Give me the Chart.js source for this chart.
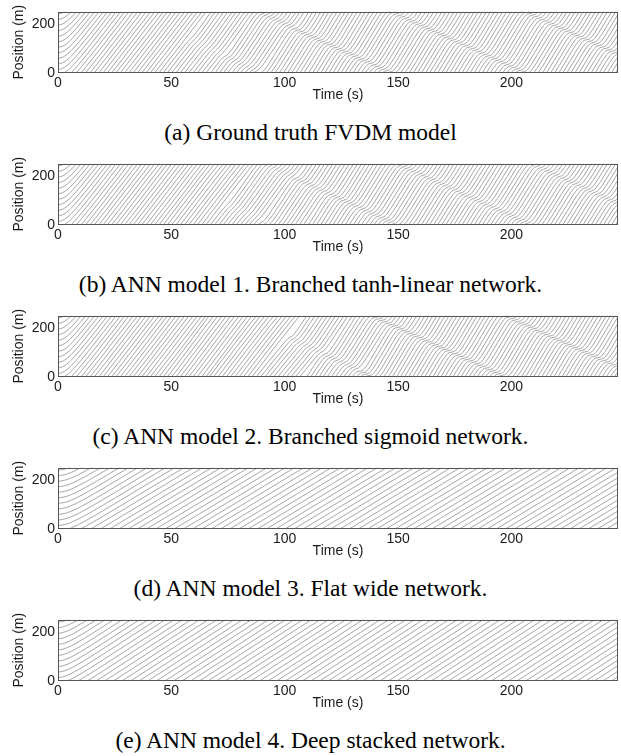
<!DOCTYPE html>
<html>
<head>
<meta charset="utf-8">
<script src="https://cdn.jsdelivr.net/npm/chart.js@4.4.0/dist/chart.umd.min.js"></script>
<style>
  body { margin: 0; background: #fff; }
  #fig { position: relative; width: 621px; height: 756px; overflow: hidden; }
  #fig canvas { position: absolute; left: 0; }
  .caption { position: absolute; left: 0; width: 621px; text-align: center; white-space: nowrap;
    font-family: "Liberation Serif", "Times New Roman", serif; font-size: 23.5px; line-height: 28px; color: #000; }
</style>
</head>
<body>
<div id="fig"></div>
<script>
const captions = [
  '(a) Ground truth FVDM model',
  '(b) ANN model 1. Branched tanh-linear network.',
  '(c) ANN model 2. Branched sigmoid network.',
  '(d) ANN model 3. Flat wide network.',
  '(e) ANN model 4. Deep stacked network.'
];

const ringLength = 250;     // m
const vehicleCount = 11;
const firstVehiclePos = 240;
const timeMax = 247;
const xTicks = [0, 50, 100, 150, 200];
const yTicks = [0, 200];

// start from rest, same for every car in (a)-(c)
const launchTimes = [0, 2, 4, 6, 8, 10, 15, 20, 30];
const launchDist = [0, 5, 17, 34, 54, 76, 133, 192, 312];

// lead car once the stop-and-go wave sets in (distance driven, m)
const waveTimesA = [40, 56, 57.2, 59.2, 60.4, 65.9,
  71.4, 72.6, 74.6, 75.8, 81.3,
  86.8, 88, 90, 91.2, 96.7,
  102.2, 103.4, 105.4, 106.6, 112.1,
  117.6, 118.8, 120.8, 122, 127.5,
  133, 134.2, 136.2, 137.4, 142.9,
  148.4, 149.6, 151.6, 152.8, 158.3,
  163.8, 165, 167, 168.2, 173.7,
  179.2, 180.4, 182.4, 183.6, 189.1,
  194.6, 195.8, 197.8, 199, 204.5,
  210, 211.2, 213.2, 214.4, 219.9,
  225.4, 226.6, 228.6, 229.8, 235.3,
  240.8, 242, 244, 245.2, 250.7,
  256.2, 257.4, 259.4, 260.6, 266.1,
  271.6];
const waveDistA = [432, 624, 637.2, 655.2, 668.4, 738.6,
  808.8, 820.8, 832.8, 844.8, 919.2,
  993.6, 1004.4, 1012.4, 1023.2, 1100.8,
  1178.4, 1188, 1193, 1202.6, 1282.9,
  1363.2, 1372.8, 1377.8, 1387.4, 1467.7,
  1548, 1557.6, 1562.6, 1572.2, 1652.5,
  1732.8, 1742.4, 1747.4, 1757, 1837.3,
  1917.6, 1927.2, 1932.2, 1941.8, 2022.1,
  2102.4, 2112, 2117, 2126.6, 2206.9,
  2287.2, 2296.8, 2301.8, 2311.4, 2391.7,
  2472, 2481.6, 2486.6, 2496.2, 2576.5,
  2656.8, 2666.4, 2671.4, 2681, 2761.3,
  2841.6, 2851.2, 2856.2, 2865.8, 2946.1,
  3026.4, 3036, 3041, 3050.6, 3130.9,
  3211.2];

const waveTimesB = [40, 72, 73.2, 75.2, 76.4, 81.9,
  87.4, 88.6, 90.6, 91.8, 97.3,
  102.8, 104, 106, 107.2, 112.7,
  118.2, 119.4, 121.4, 122.6, 128.1,
  133.6, 134.8, 136.8, 138, 143.5,
  149, 150.2, 152.2, 153.4, 158.9,
  164.4, 165.6, 167.6, 168.8, 174.3,
  179.8, 181, 183, 184.2, 189.7,
  195.2, 196.4, 198.4, 199.6, 205.1,
  210.6, 211.8, 213.8, 215, 220.5,
  226, 227.2, 229.2, 230.4, 235.9,
  241.4, 242.6, 244.6, 245.8, 251.3,
  256.8, 258, 260, 261.2, 266.7,
  272.2];
const waveDistB = [432, 816, 829.2, 847.2, 860.4, 930.6,
  1000.8, 1012.8, 1024.8, 1036.8, 1111.2,
  1185.6, 1196.4, 1204.4, 1215.2, 1292.8,
  1370.4, 1380.6, 1387.6, 1397.8, 1476.5,
  1555.2, 1565.4, 1572.4, 1582.6, 1661.3,
  1740, 1750.2, 1757.2, 1767.4, 1846.1,
  1924.8, 1935, 1942, 1952.2, 2030.9,
  2109.6, 2119.8, 2126.8, 2137, 2215.7,
  2294.4, 2304.6, 2311.6, 2321.8, 2400.5,
  2479.2, 2489.4, 2496.4, 2506.6, 2585.3,
  2664, 2674.2, 2681.2, 2691.4, 2770.1,
  2848.8, 2859, 2866, 2876.2, 2954.9,
  3033.6, 3043.8, 3050.8, 3061, 3139.7,
  3218.4];

const waveTimesC = [40, 100, 101.2, 103.2, 104.4, 109.9,
  115.4, 116.6, 118.6, 119.8, 125.3,
  130.8, 132, 134, 135.2, 140.7,
  146.2, 147.4, 149.4, 150.6, 156.1,
  161.6, 162.8, 164.8, 166, 171.5,
  177, 178.2, 180.2, 181.4, 186.9,
  192.4, 193.6, 195.6, 196.8, 202.3,
  207.8, 209, 211, 212.2, 217.7,
  223.2, 224.4, 226.4, 227.6, 233.1,
  238.6, 239.8, 241.8, 243, 248.5,
  254, 255.2, 257.2, 258.4, 263.9,
  269.4];
const waveDistC = [432, 1152, 1164, 1176, 1188, 1262.4,
  1336.8, 1347.6, 1355.6, 1366.4, 1444,
  1521.6, 1530.6, 1534.6, 1543.6, 1625,
  1706.4, 1715.4, 1719.4, 1728.4, 1809.8,
  1891.2, 1900.2, 1904.2, 1913.2, 1994.6,
  2076, 2085, 2089, 2098, 2179.4,
  2260.8, 2269.8, 2273.8, 2282.8, 2364.2,
  2445.6, 2454.6, 2458.6, 2467.6, 2549,
  2630.4, 2639.4, 2643.4, 2652.4, 2733.8,
  2815.2, 2824.2, 2828.2, 2837.2, 2918.6,
  3000, 3009, 3013, 3022, 3103.4,
  3184.8];

// each follower meets the wave this much later (s) and further back (m)
const waveLag = 1.4;
const waveBack = 5.93;

// (d), (e): smooth flow, no waves
const flowTimesD = [0, 3, 6, 9, 12, 16, 20, 25, 247];
const flowDistD = [0, 4.2, 14, 27, 41.7, 62.8, 84.5, 112.2, 1355.4];
const flowTimesE = [0, 2, 4, 6, 8, 12, 16, 20, 247];
const flowDistE = [0, 2.56, 8.83, 17.36, 27.2, 49.2, 72.4, 96.2, 1458.2];

const spacing = ringLength / vehicleCount;

function wavePaths(waveTimes, waveDist) {
  const paths = [];
  for (let i = 0; i < vehicleCount; i++) {
    const path = launchTimes.map((t, j) => ({ x: t, y: firstVehiclePos + launchDist[j] - i * spacing }));
    waveTimes.forEach((t, j) => {
      path.push({ x: t + i * waveLag, y: firstVehiclePos + waveDist[j] - i * waveBack });
    });
    paths.push(path);
  }
  return paths;
}

function flowPaths(times, dist) {
  const paths = [];
  for (let i = 0; i < vehicleCount; i++) {
    paths.push(times.map((t, j) => ({ x: t, y: firstVehiclePos + dist[j] - i * spacing })));
  }
  return paths;
}

// one dataset per car and lap, the ring wraps the position
function lapDatasets(paths) {
  const sets = [];
  paths.forEach(path => {
    const lo = Math.floor(path[0].y / ringLength);
    const hi = Math.floor(path[path.length - 1].y / ringLength);
    for (let lap = lo; lap <= hi; lap++) {
      sets.push({
        data: path.map(p => ({ x: p.x, y: p.y - lap * ringLength })),
        borderColor: '#808080',
        borderWidth: 0.7,
        pointRadius: 0,
        cubicInterpolationMode: 'monotone',
        capBezierPoints: false,
        clip: 0
      });
    }
  });
  return sets;
}

const panels = [
  wavePaths(waveTimesA, waveDistA),
  wavePaths(waveTimesB, waveDistB),
  wavePaths(waveTimesC, waveDistC),
  flowPaths(flowTimesD, flowDistD),
  flowPaths(flowTimesE, flowDistE)
];

const framePlugin = {
  id: 'frame',
  afterDraw(chart) {
    const { ctx, chartArea: a } = chart;
    ctx.save();
    ctx.strokeStyle = '#555';
    ctx.lineWidth = 1;
    ctx.strokeRect(Math.round(a.left) + 0.5, Math.round(a.top) + 0.5,
      Math.round(a.right - a.left) - 1, Math.round(a.bottom - a.top) - 1);
    ctx.restore();
  }
};

Chart.defaults.font.family = '"Liberation Sans", Arial, sans-serif';
Chart.defaults.font.size = 14;
Chart.defaults.color = '#1a1a1a';

const fig = document.getElementById('fig');
panels.forEach((paths, p) => {
  const canvas = document.createElement('canvas');
  canvas.width = 621;
  canvas.height = 104;
  canvas.style.top = (p * 152) + 'px';
  fig.appendChild(canvas);

  new Chart(canvas.getContext('2d'), {
    type: 'line',
    data: { datasets: lapDatasets(paths) },
    options: {
      responsive: false,
      animation: false,
      events: [],
      layout: { padding: { top: 11.7, right: 3, left: 0, bottom: 0 } },
      plugins: { legend: { display: false }, tooltip: { enabled: false } },
      scales: {
        x: {
          type: 'linear', min: 0, max: timeMax,
          grid: { display: false, drawTicks: false },
          border: { display: false },
          afterBuildTicks: s => { s.ticks = xTicks.map(v => ({ value: v })); },
          afterFit: s => { s.height = 31.3; },
          ticks: { padding: 2, autoSkip: false, maxRotation: 0 },
          title: { display: true, text: 'Time (s)', padding: 0 }
        },
        y: {
          type: 'linear', min: 0, max: ringLength,
          grid: { display: false, drawTicks: false },
          border: { display: false },
          afterBuildTicks: s => { s.ticks = yTicks.map(v => ({ value: v })); },
          afterFit: s => { s.width = 58; },
          ticks: { padding: 3, autoSkip: false },
          title: { display: true, text: 'Position (m)', padding: { top: 10.6, bottom: 0 } }
        }
      }
    },
    plugins: [framePlugin]
  });

  const cap = document.createElement('div');
  cap.className = 'caption';
  cap.style.top = (132 + p * 152 - 14) + 'px';
  cap.textContent = captions[p];
  fig.appendChild(cap);
});
</script>
</body>
</html>
